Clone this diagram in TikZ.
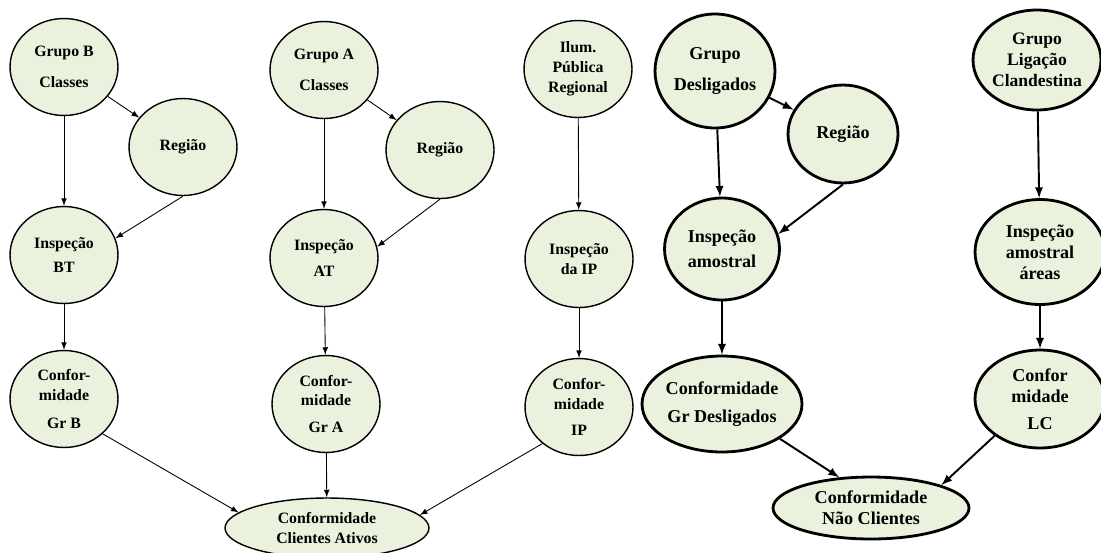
\documentclass[tikz,border=0pt]{standalone}
\usepackage{fontspec}
\setmainfont{Liberation Serif}
\usepackage{tikz}
\usetikzlibrary{arrows, shapes.geometric}
\definecolor{nodefill}{RGB}{234,241,221}

\begin{document}
\begin{tikzpicture}[x=0.02cm, y=-0.02cm]
	\tikzstyle{every node} = [ellipse, draw, fill=nodefill, inner sep=0pt, align=center, font=\bfseries\fontsize{9}{11.3}\selectfont]
	\tikzstyle{littlenode} = [line width=0.8pt, minimum width=2.16cm, minimum height=1.94cm]
	\tikzstyle{bignode} = [line width=1.6pt, font=\bfseries\fontsize{10.3}{12}\selectfont]
	\tikzstyle{thinarrow} = [-latex, line width=0.5pt]
	\tikzstyle{thickarrow} = [-latex, line width=1.1pt]
	\useasboundingbox (0,0) rectangle (1101,552);
	% clientes ativos
	\node[littlenode] (g1) at (64,67) {Grupo B\\[6.5pt]Classes}; \node[littlenode] (r1) at (183,147) {Região}; \node[littlenode] (i1) at (64,255) {Inspeção\\[2.9pt]BT}; \node[littlenode] (c1) at (64,399) {Confor-\\midade\\[4.5pt]Gr B};
	\node[littlenode] (g2) at (324,70) {Grupo A\\[6.3pt]Classes}; \node[littlenode] (r2) at (440,150) {Região}; \node[littlenode] (i2) at (324,258) {Inspeção\\[4pt]AT}; \node[littlenode] (c2) at (326,404) {Confor-\\midade\\[4pt]Gr A};
	\node[littlenode] (g3) at (578,69) {Ilum.\\Pública\\Regional}; \node[littlenode] (i3) at (579,259) {Inspeção\\da IP}; \node[littlenode] (c3) at (579,407) {Confor-\\midade\\[4pt]IP};
	\node[littlenode, minimum width=4.08cm, minimum height=1.2cm] (ca) at (327,528) {Conformidade\\Clientes Ativos};
	
	\draw[thinarrow] (g1) -- (r1); \draw[thinarrow] (g1) -- (i1); \draw[thinarrow] (r1.south) -- (i1.18); \draw[thinarrow] (i1) -- (c1); \draw[thinarrow] (c1.-42) -- (ca.170);
	\draw[thinarrow] (g2) -- (r2); \draw[thinarrow] (g2) -- (i2); \draw[thinarrow] (r2.south) -- (i2.12); \draw[thinarrow] (i2) -- (c2); \draw[thinarrow] (c2) -- (ca);
	\draw[thinarrow] (g3) -- (i3); \draw[thinarrow] (i3) -- (c3); \draw[thinarrow] (c3.225) -- (ca.8);
	
	% nao clientes
	\node[bignode, minimum width=2.4cm, minimum height=2.28cm] (gd) at (715,71) {Grupo\\[6pt]Desligados}; \node[bignode, minimum width=2.2cm, minimum height=1.96cm] (rd) at (843,134) {Região}; \node[bignode, minimum width=2.3cm, minimum height=2.04cm] (id) at (722,249) {Inspeção\\[2pt]amostral}; \node[bignode, minimum width=3.2cm, minimum height=1.92cm] (cd) at (722,404) {Conformidade\\[4pt]Gr Desligados};
	\node[bignode, minimum width=2.56cm, minimum height=2cm, font=\bfseries\fontsize{10}{12}\selectfont] (gl) at (1037,60) {Grupo\\Ligação\\Clandestina}; \node[bignode, minimum width=2.6cm, minimum height=2.1cm] (il) at (1040,252) {Inspeção\\amostral\\áreas}; \node[bignode, minimum width=2.6cm, minimum height=1.96cm] (cl) at (1040,399) {Confor\\midade\\[3pt]LC};
	\node[bignode, minimum width=3.92cm, minimum height=1.24cm] (nc) at (871,508) {Conformidade\\Não Clientes};
	
	\draw[thickarrow] (gd) -- (rd); \draw[thickarrow] (gd) -- (id); \draw[thickarrow] (rd.south) -- (id.15); \draw[thickarrow] (id) -- (cd); \draw[thickarrow] (cd.-31) -- (nc.136);
	\draw[thickarrow] (gl) -- (il); \draw[thickarrow] (il) -- (cl); \draw[thickarrow] (cl.219) -- (nc.18);
\end{tikzpicture}
\end{document}
